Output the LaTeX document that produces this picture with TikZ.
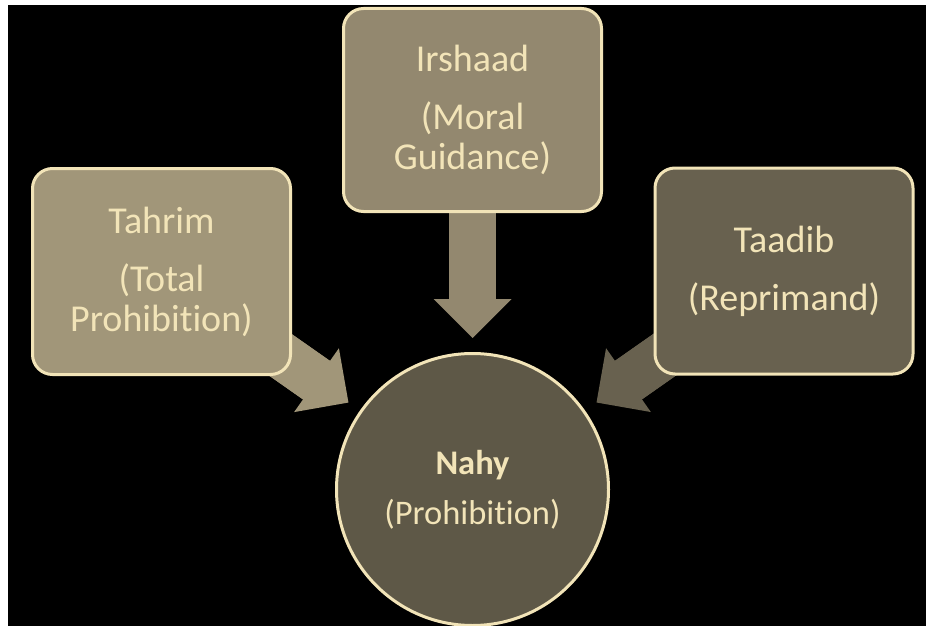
\documentclass[tikz,border=0pt]{standalone}
\usepackage{fontspec}
\setmainfont{Carlito}[Ligatures=NoCommon]
\usetikzlibrary{arrows.meta}
\pgfdeclarelayer{back}
\pgfdeclarelayer{mid}
\pgfsetlayers{back,mid,main}
\definecolor{cream}{RGB}{242,228,184}
\definecolor{tanA}{RGB}{161,150,121}
\definecolor{tanB}{RGB}{147,136,111}
\definecolor{tanC}{RGB}{104,97,79}
\definecolor{tanD}{RGB}{94,88,71}

\begin{document}
\begin{tikzpicture}[x=0.5pt,y=-0.5pt,
  box/.style={draw=cream,line width=1.5pt,rounded corners=10pt,text=cream,
    minimum width=129pt,minimum height=103pt,align=center,
    font=\fontsize{19}{20}\selectfont},
  hub/.style={draw=cream,line width=1.5pt,circle,minimum size=136pt,text=cream,
    align=center,font=\fontsize{17.25}{18}\selectfont},
  fat/.style={line width=23.5pt,-{Triangle[width=39pt,length=19.5pt,line width=0pt]},
    shorten >=7pt,postaction={draw,-,shorten >=24pt}}]
\useasboundingbox (0,0) rectangle (926,626);
\begin{pgfonlayer}{back}
\fill[white] (0,0) rectangle (926,626);
\fill[black] (8,5) rectangle (926,626);
\end{pgfonlayer}

\node[box,fill=tanA] (tahrim) at (161.5,271.5) {Tahrim\\[9pt](Total\\Prohibition)};
\node[box,fill=tanB,minimum height=101.5pt] (irshaad) at (472.5,110) {Irshaad\\[9pt](Moral\\Guidance)};
\node[box,fill=tanC] (taadib) at (784,271) {Taadib\\[9pt](Reprimand)};
\node[hub,fill=tanD] (nahy) at (472.5,489.5) {\textbf{Nahy}\\[7pt](Prohibition)};

\begin{pgfonlayer}{mid}
\draw[fat,tanA] (tahrim.center) -- (nahy);
\draw[fat,tanB] (irshaad.center) -- (nahy);
\draw[fat,tanC] (taadib.center) -- (nahy);
\end{pgfonlayer}
\end{tikzpicture}
\end{document}
